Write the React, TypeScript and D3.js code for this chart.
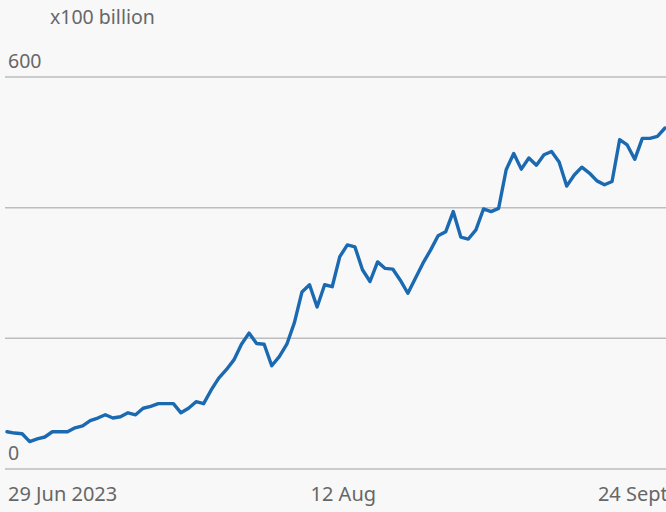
import React, { useRef, useEffect } from 'react';
import * as d3 from 'd3';

// values in units of 100 billion
const values = [
  57, 55, 54, 42, 46, 49, 57, 57, 57, 63,
  66, 74, 78, 83, 78, 80, 86, 83, 93, 96,
  100, 100, 100, 86, 93, 103, 100, 121, 139, 152,
  167, 191, 208, 192, 191, 158, 172, 191, 224, 271,
  282, 248, 282, 279, 325, 343, 340, 305, 287, 317,
  307, 306, 289, 269, 292, 315, 335, 357, 363, 394,
  355, 352, 366, 398, 394, 399, 458, 483, 459, 476,
  465, 481, 486, 470, 433, 450, 462, 453, 441, 435,
  440, 504, 496, 474, 506, 506, 509, 522,
];

const yTicks = [0, 200, 400, 600];
const yLabels = [0, 600];
const xTickIndex = [0, 40, 78];
const xTickLabels = ['29 Jun 2023', '12 Aug', '24 Sept'];
const unitLabel = 'x100 billion';

const W = 666;
const H = 512;

const App = () => {
  const ref = useRef(null);

  useEffect(() => {
    const svg = d3.select(ref.current);
    svg.selectAll('*').remove();

    const x = d3.scaleLinear().domain([0, values.length - 1]).range([7, 665]);
    const y = d3.scaleLinear().domain([0, 600]).range([469, 77]);

    svg.append('rect').attr('width', W).attr('height', H).attr('fill', '#f8f8f8');

    const font = '"Noto Sans", "Open Sans", sans-serif';
    const grey = '#676767';

    svg.append('g')
      .selectAll('line')
      .data(yTicks)
      .join('line')
      .attr('x1', 5)
      .attr('x2', W)
      .attr('y1', d => y(d))
      .attr('y2', d => y(d))
      .attr('stroke', '#bdbdbd')
      .attr('stroke-width', 1.5);

    svg.append('g')
      .selectAll('text')
      .data(yLabels)
      .join('text')
      .attr('x', 8)
      .attr('y', d => y(d) - 9.5)
      .attr('fill', grey)
      .attr('font-family', font)
      .attr('font-size', 19.5)
      .text(d => d);

    svg.append('text')
      .attr('x', 50)
      .attr('y', 24)
      .attr('fill', grey)
      .attr('font-family', font)
      .attr('font-size', 19.5)
      .text(unitLabel);

    svg.append('g')
      .selectAll('text')
      .data(xTickIndex)
      .join('text')
      .attr('x', d => x(d) + 1)
      .attr('y', 501)
      .attr('fill', grey)
      .attr('font-family', font)
      .attr('font-size', 20)
      .text((d, i) => xTickLabels[i]);

    const line = d3.line<number>()
      .x((d, i) => x(i))
      .y(d => y(d));

    svg.append('path')
      .datum(values)
      .attr('d', line)
      .attr('fill', 'none')
      .attr('stroke', '#1b6ab1')
      .attr('stroke-width', 3.4)
      .attr('stroke-linejoin', 'round')
      .attr('stroke-linecap', 'round');
  }, []);

  return (
    <svg
      ref={ref}
      width={W}
      height={H}
      style={{ position: 'absolute', left: 0, top: 0, display: 'block' }}
    ></svg>
  );
};

export default App;
